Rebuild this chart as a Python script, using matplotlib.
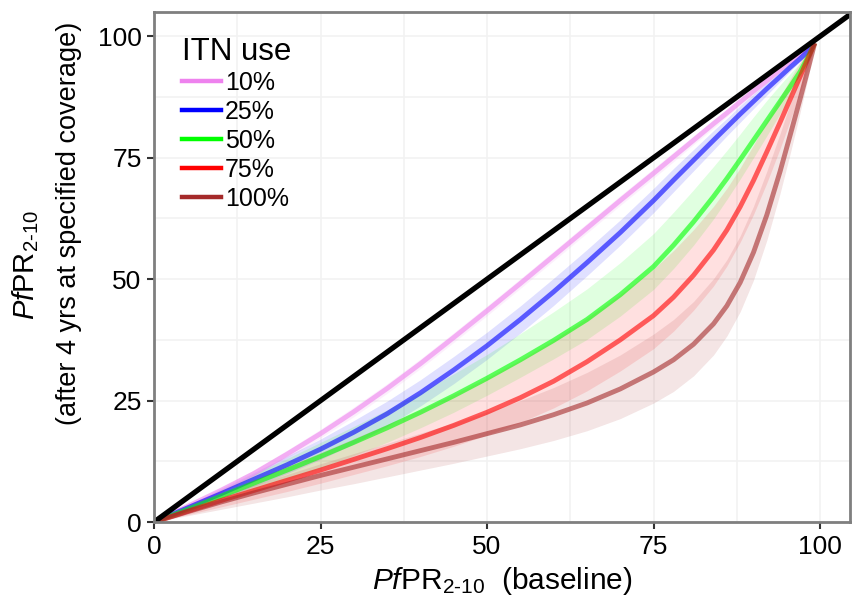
import numpy as np
import matplotlib
matplotlib.use("Agg")
import matplotlib.pyplot as plt

# PfPR baseline (x) vs PfPR after 4 yrs of ITN use (y)
baseline = [0, 5, 10, 15, 20, 25, 30, 35, 40, 45, 50, 55, 60, 65, 70, 75, 78, 81, 84, 86, 88, 90, 92, 94, 95.5, 97, 98.3, 99.2]

itn_labels = ["10%", "25%", "50%", "75%", "100%"]
itn_colors = ["violet", "blue", "lime", "red", "brown"]

pink = [0, 3.2, 6.5, 10.0, 14.0, 18.2, 22.7, 27.5, 32.6, 38.0, 43.5, 49.1, 54.8, 60.5, 66.2, 71.8, 75.2, 78.6, 82.0, 84.2, 86.5, 88.7, 90.9, 93.1, 94.8, 96.4, 97.8, 98.6]
pink_lo = [0, 2.9, 6.0, 9.3, 13.2, 17.3, 21.7, 26.5, 31.6, 37.0, 42.5, 48.1, 53.8, 59.5, 65.2, 70.8, 74.2, 77.7, 81.1, 83.4, 85.7, 88.0, 90.3, 92.6, 94.4, 96.1, 97.6, 98.6]
pink_hi = [0, 3.5, 7.0, 10.7, 14.8, 19.1, 23.7, 28.5, 33.6, 39.0, 44.5, 50.1, 55.8, 61.5, 67.2, 72.8, 76.2, 79.5, 82.9, 85.0, 87.3, 89.4, 91.5, 93.6, 95.2, 96.7, 98.0, 98.6]

blue = [0, 2.9, 5.8, 8.8, 11.8, 15.0, 18.5, 22.3, 26.6, 31.3, 36.3, 41.7, 47.4, 53.4, 59.6, 66.2, 70.4, 74.5, 78.6, 81.3, 84.0, 86.6, 89.2, 91.7, 93.6, 95.4, 97.1, 98.6]
blue_lo = [0, 2.4, 4.8, 7.4, 10.0, 12.9, 16.1, 19.7, 23.9, 28.5, 33.5, 38.9, 44.6, 50.7, 57.0, 63.7, 68.0, 72.3, 76.6, 79.5, 82.3, 85.1, 87.9, 90.7, 92.8, 94.8, 96.7, 98.6]
blue_hi = [0, 3.4, 6.8, 10.2, 13.6, 17.1, 20.9, 24.9, 29.3, 34.1, 39.1, 44.5, 50.2, 56.1, 62.2, 68.7, 72.8, 76.7, 80.6, 83.1, 85.7, 88.1, 90.5, 92.7, 94.4, 96.0, 97.5, 98.6]

green = [0, 2.6, 5.3, 8.0, 10.7, 13.5, 16.4, 19.4, 22.6, 26.0, 29.6, 33.4, 37.4, 41.7, 46.8, 52.6, 57.0, 61.8, 67.0, 70.7, 74.6, 78.6, 82.6, 86.6, 89.6, 92.7, 96.0, 98.6]
green_lo = [0, 2.0, 4.2, 6.4, 8.7, 11.1, 13.7, 16.4, 19.4, 22.6, 26.1, 29.8, 33.6, 37.6, 42.4, 47.9, 52.2, 57.0, 62.4, 66.4, 70.6, 75.0, 79.5, 84.1, 87.6, 91.3, 95.2, 98.6]
green_hi = [0, 3.3, 6.6, 9.9, 13.1, 16.4, 19.7, 23.1, 26.7, 30.5, 34.5, 38.8, 43.3, 48.0, 53.4, 59.4, 63.8, 68.4, 73.2, 76.5, 79.9, 83.4, 86.8, 90.0, 92.3, 94.6, 97.1, 98.6]

red = [0, 2.2, 4.4, 6.5, 8.6, 10.7, 12.9, 15.1, 17.4, 19.9, 22.6, 25.6, 29.0, 33.0, 37.5, 42.5, 46.3, 50.8, 56.0, 60.1, 64.9, 70.3, 76.2, 82.3, 87.0, 91.7, 95.8, 98.6]
red_lo = [0, 1.5, 3.1, 4.7, 6.3, 8.0, 9.8, 11.6, 13.5, 15.6, 17.9, 20.5, 23.5, 27.0, 31.1, 35.7, 39.3, 43.6, 48.6, 52.7, 57.6, 63.3, 69.8, 76.9, 82.6, 88.5, 93.9, 98.6]
red_hi = [0, 3.0, 5.9, 8.7, 11.5, 14.3, 17.2, 20.1, 23.1, 26.3, 29.7, 33.4, 37.5, 42.0, 46.9, 52.1, 55.9, 60.2, 65.0, 68.7, 72.9, 77.6, 82.6, 87.5, 91.2, 94.7, 97.6, 98.6]

brown = [0, 2.1, 4.1, 6.0, 7.8, 9.6, 11.3, 13.0, 14.7, 16.4, 18.2, 20.0, 22.1, 24.5, 27.4, 30.9, 33.4, 36.6, 40.8, 44.5, 49.3, 55.5, 63.2, 72.2, 79.6, 87.1, 93.8, 98.6]
brown_lo = [0, 1.3, 2.6, 3.9, 5.2, 6.6, 7.9, 9.3, 10.7, 12.1, 13.6, 15.1, 16.8, 18.8, 21.3, 24.5, 26.9, 30.1, 34.4, 38.3, 43.3, 49.8, 58.0, 67.7, 75.8, 84.3, 92.1, 98.6]
brown_hi = [0, 2.7, 5.2, 7.6, 9.8, 12.0, 14.1, 16.2, 18.3, 20.4, 22.7, 25.0, 27.7, 30.8, 34.4, 38.7, 41.7, 45.4, 50.1, 54.0, 58.9, 65.0, 72.2, 80.0, 86.1, 91.9, 96.6, 98.6]

ticks = [0, 25, 50, 75, 100]

plt.rcParams['font.family'] = ['Liberation Sans', 'DejaVu Sans']
plt.rcParams['mathtext.fontset'] = 'custom'
plt.rcParams['mathtext.rm'] = 'Liberation Sans'
plt.rcParams['mathtext.it'] = 'Liberation Sans:italic'

fig = plt.figure(figsize=(8.52, 6.08), dpi=100)
ax = fig.add_axes([0.1808, 0.1414, 0.8169, 0.8388])

means = [pink, blue, green, red, brown]
lows = [pink_lo, blue_lo, green_lo, red_lo, brown_lo]
highs = [pink_hi, blue_hi, green_hi, red_hi, brown_hi]

for lo, hi, c in zip(lows, highs, itn_colors):
    ax.fill_between(baseline, lo, hi, color=c, alpha=0.12, lw=0)

for m, c in zip(means, itn_colors):
    ax.plot(baseline, m, color=c, alpha=0.6, lw=3.5, solid_capstyle='butt',
            solid_joinstyle='round')

# y = x reference
ax.axline((0, 0), slope=1, color='black', lw=3.8)

# legend: title as its own text so the gap to the keys matches
ax.text(0.0402, 0.906, "ITN use", transform=ax.transAxes, fontsize=22.5,
        ha='left', va='baseline')
handles = [plt.Line2D([], [], color=c, lw=3.2) for c in itn_colors]
leg = ax.legend(handles, itn_labels, loc='upper left',
                bbox_to_anchor=(0.0402, 0.884), frameon=False, fontsize=18,
                handlelength=1.56, handletextpad=0.16, labelspacing=0.2,
                borderpad=0, borderaxespad=0)

ax.set_xlim(0, 104.5)
ax.set_ylim(0, 105)
ax.set_xticks(ticks)
ax.set_yticks(ticks)
ax.set_xticks([12.5, 37.5, 62.5, 87.5], minor=True)
ax.set_yticks([12.5, 37.5, 62.5, 87.5], minor=True)
ax.tick_params(which='minor', length=0)
ax.tick_params(which='major', labelsize=19, length=5, width=1.5, color='#333333', pad=4)
ax.grid(True, which='both', color='#f2f2f2', lw=1.2)
ax.set_axisbelow(True)
for s in ax.spines.values():
    s.set_color('#7f7f7f')
    s.set_linewidth(2)

ax.set_xlabel(r'$\mathit{Pf}\mathrm{PR}_{\mathrm{2\text{-}10}}$  (baseline)', fontsize=21.5, labelpad=5)
fig.text(0.030, 0.564, r'$\mathit{Pf}\mathrm{PR}_{\mathrm{2\text{-}10}}$', rotation=90,
         fontsize=21, ha='center', va='center')
fig.text(0.081, 0.632, '(after 4 yrs at specified coverage)', rotation=90,
         fontsize=19.5, ha='center', va='center')

fig.savefig('out.png', dpi=100)
